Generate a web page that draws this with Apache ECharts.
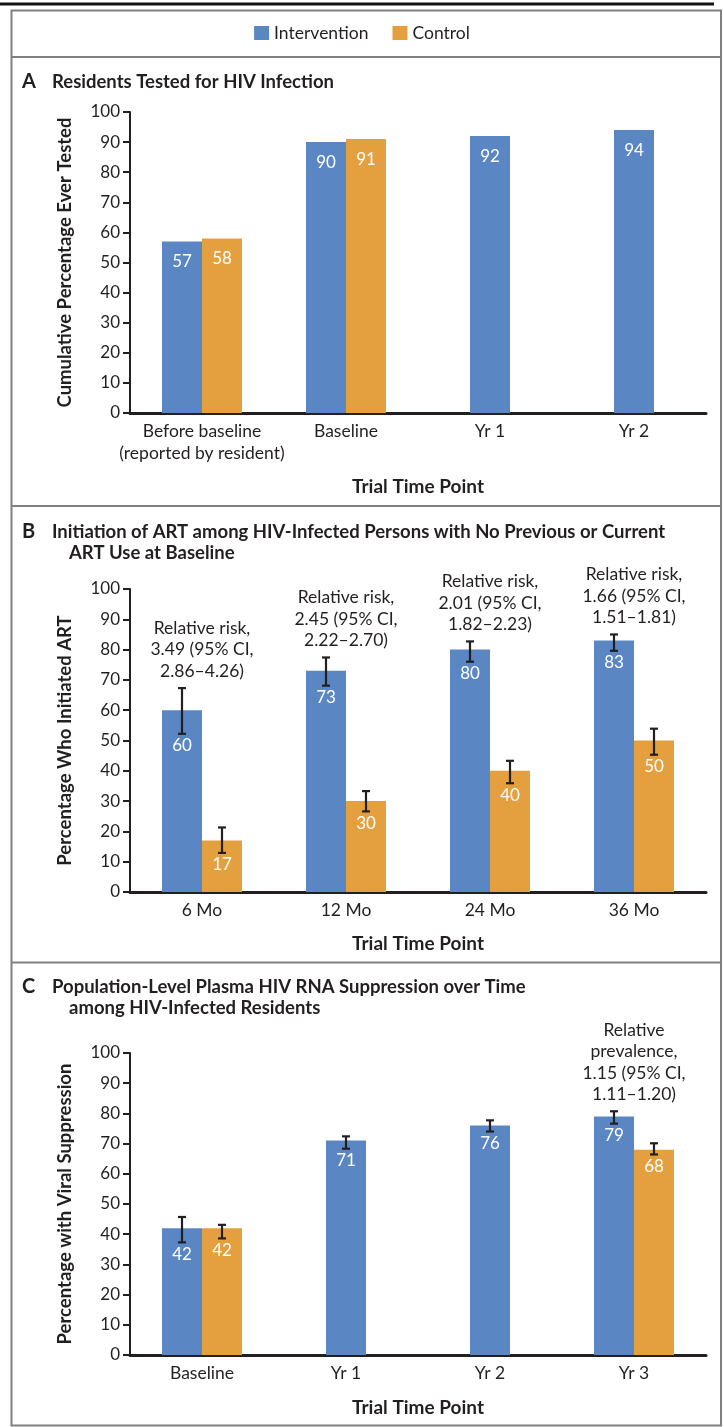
<!DOCTYPE html>
<html>
<head>
<meta charset="utf-8">
<script src="https://cdn.jsdelivr.net/npm/echarts@6/dist/echarts.min.js"></script>
<style>
html,body{margin:0;padding:0;background:#fff;}
#chart{width:724px;height:1427px;}
</style>
</head>
<body>
<div id="chart"></div>
<script>
// ---------- data ----------
const seriesNames = ['Intervention', 'Control'];
const yTicks = [0, 10, 20, 30, 40, 50, 60, 70, 80, 90, 100];
const xAxisTitle = 'Trial Time Point';

// Panel A
const aTitle = 'Residents Tested for HIV Infection';
const aYTitle = 'Cumulative Percentage Ever Tested';
const aCategories = ['Before baseline\n(reported by resident)', 'Baseline', 'Yr 1', 'Yr 2'];
const aIntervention = [57, 90, 92, 94];
const aControl = [58, 91, null, null];

// Panel B
const bTitle1 = 'Initiation of ART among HIV-Infected Persons with No Previous or Current';
const bTitle2 = 'ART Use at Baseline';
const bYTitle = 'Percentage Who Initiated ART';
const bCategories = ['6 Mo', '12 Mo', '24 Mo', '36 Mo'];
const bIntervention = [60, 73, 80, 83];
const bInterventionLow = [52.2, 68.1, 76.0, 79.6];
const bInterventionHigh = [67.3, 77.4, 82.7, 85.0];
const bControl = [17, 30, 40, 50];
const bControlLow = [12.9, 26.6, 35.9, 45.3];
const bControlHigh = [21.3, 33.3, 43.3, 53.9];
const bNotes = [
  'Relative risk,\n3.49 (95% CI,\n2.86\u20134.26)',
  'Relative risk,\n2.45 (95% CI,\n2.22\u20132.70)',
  'Relative risk,\n2.01 (95% CI,\n1.82\u20132.23)',
  'Relative risk,\n1.66 (95% CI,\n1.51\u20131.81)'
];

// Panel C
const cTitle1 = 'Population-Level Plasma HIV RNA Suppression over Time';
const cTitle2 = 'among HIV-Infected Residents';
const cYTitle = 'Percentage with Viral Suppression';
const cCategories = ['Baseline', 'Yr 1', 'Yr 2', 'Yr 3'];
const cIntervention = [42, 71, 76, 79];
const cInterventionLow = [37.3, 68.3, 74.0, 76.6];
const cInterventionHigh = [45.7, 72.4, 77.7, 80.7];
const cControl = [42, null, null, 68];
const cControlLow = [38.6, null, null, 66.4];
const cControlHigh = [43.1, null, null, 70.1];
const cNotes = ['', '', '', 'Relative\nprevalence,\n1.15 (95% CI,\n1.11\u20131.20)'];

// ---------- styling ----------
const BLUE = '#5B86C4';
const ORANGE = '#E4A03E';
const INK = '#231F20';
const FONT = 'Lato';
const BAR_W = 40;
const GRID_LEFT = 130, GRID_W = 576;
const FS_TEXT = 17.5, FS_TICK = 17, FS_VAL = 17, FS_AXNAME = 18.5, FS_XNAME = 19, FS_TITLE = 18.5;

const grids = [
  {left: GRID_LEFT, width: GRID_W, top: 112, height: 301},
  {left: GRID_LEFT, width: GRID_W, top: 589, height: 303},
  {left: GRID_LEFT, width: GRID_W, top: 1053, height: 302}
];
const panels = [
  {cats: aCategories, yTitle: aYTitle, xNameGap: 64, inter: aIntervention, ctrl: aControl},
  {cats: bCategories, yTitle: bYTitle, xNameGap: 42, inter: bIntervention, ctrl: bControl,
   iLow: bInterventionLow, iHigh: bInterventionHigh, cLow: bControlLow, cHigh: bControlHigh, notes: bNotes},
  {cats: cCategories, yTitle: cYTitle, xNameGap: 43, inter: cIntervention, ctrl: cControl,
   iLow: cInterventionLow, iHigh: cInterventionHigh, cLow: cControlLow, cHigh: cControlHigh, notes: cNotes}
];

const xAxes = [], yAxes = [], series = [];
panels.forEach((p, g) => {
  xAxes.push({
    type: 'category', gridIndex: g, data: p.cats,
    axisLine: {show: true, onZero: false, lineStyle: {color: INK, width: 3}},
    axisTick: {show: false},
    axisLabel: {color: INK, fontFamily: FONT, fontSize: FS_TEXT, lineHeight: 21.5, margin: 8, interval: 0},
    name: xAxisTitle, nameLocation: 'middle', nameGap: p.xNameGap,
    nameTextStyle: {color: INK, fontFamily: FONT, fontSize: FS_XNAME, fontWeight: 'bold'}
  });
  xAxes.push({
    type: 'category', gridIndex: g, data: p.cats, show: false
  });
  yAxes.push({
    type: 'value', gridIndex: g, min: yTicks[0], max: yTicks[yTicks.length - 1],
    interval: yTicks[1] - yTicks[0],
    splitLine: {show: false},
    axisLine: {show: true, lineStyle: {color: INK, width: 2}},
    axisTick: {show: true, length: 7, lineStyle: {color: INK, width: 2}},
    axisLabel: {color: INK, fontFamily: FONT, fontSize: FS_TICK, margin: 10},
    name: p.yTitle, nameLocation: 'middle', nameGap: 55, nameRotate: 90,
    nameTextStyle: {color: INK, fontFamily: FONT, fontSize: FS_AXNAME, fontWeight: 'bold'}
  });

  const hasErr = !!p.iLow;
  const paired = p.ctrl.map(v => v != null);
  const barLabel = {
    show: !hasErr, position: 'insideTop', distance: 12, color: '#fff',
    fontFamily: FONT, fontSize: FS_VAL
  };
  // paired intervention bars
  series.push({
    type: 'bar', name: seriesNames[0], xAxisIndex: 2 * g, yAxisIndex: g,
    barWidth: BAR_W, barGap: '0%', itemStyle: {color: BLUE},
    label: barLabel,
    data: p.inter.map((v, i) => paired[i] ? v : '-')
  });
  series.push({
    type: 'bar', name: seriesNames[1], xAxisIndex: 2 * g, yAxisIndex: g,
    barWidth: BAR_W, barGap: '0%', itemStyle: {color: ORANGE},
    label: barLabel,
    data: p.ctrl.map(v => v == null ? '-' : v)
  });
  // intervention bars without a control counterpart (centred)
  series.push({
    type: 'bar', name: seriesNames[0], xAxisIndex: 2 * g + 1, yAxisIndex: g,
    barWidth: BAR_W, itemStyle: {color: BLUE},
    label: barLabel,
    data: p.inter.map((v, i) => paired[i] ? '-' : v)
  });

  if (hasErr) {
    const makeErr = (vals, lows, highs, side) => ({
      type: 'custom', xAxisIndex: 2 * g, yAxisIndex: g, silent: true, z: 5,
      data: vals.map((v, i) => v == null ? null : [i, lows[i], highs[i], v]).filter(d => d),
      renderItem: function (params, api) {
        const idx = api.value(0);
        const shift = paired[idx] ? side * BAR_W / 2 : 0;
        const x = api.coord([idx, 0])[0] + shift;
        const lo = api.coord([idx, api.value(1)])[1];
        const hi = api.coord([idx, api.value(2)])[1];
        const ls = {stroke: INK, lineWidth: 2.2};
        return {type: 'group', children: [
          {type: 'line', shape: {x1: x, y1: lo, x2: x, y2: hi}, style: ls},
          {type: 'line', shape: {x1: x - 4, y1: hi, x2: x + 4, y2: hi}, style: ls},
          {type: 'line', shape: {x1: x - 4, y1: lo, x2: x + 4, y2: lo}, style: ls},
          {type: 'text', style: {text: String(api.value(3)), x: x, y: lo + 12,
            align: 'center', verticalAlign: 'middle', fill: '#fff',
            font: FS_VAL + 'px ' + FONT}}
        ]};
      }
    });
    series.push(makeErr(p.inter, p.iLow, p.iHigh, -1));
    series.push(makeErr(p.ctrl, p.cLow, p.cHigh, 1));
    // annotations above each group
    series.push({
      type: 'custom', xAxisIndex: 2 * g + 1, yAxisIndex: g, silent: true, z: 6,
      data: p.notes.map((t, i) => t ? [i, Math.max(p.iHigh[i] || 0, p.cHigh[i] || 0)] : null).filter(d => d),
      renderItem: function (params, api) {
        const idx = api.value(0);
        const pt = api.coord([idx, api.value(1)]);
        return {type: 'text', style: {text: p.notes[idx], x: pt[0], y: pt[1] - 6,
          align: 'center', verticalAlign: 'bottom', fill: INK,
          font: FS_TEXT + 'px ' + FONT, lineHeight: 21.5}};
      }
    });
  }
});

const letterFont = 'bold 20px ' + FONT;
const titleFont = 'bold ' + FS_TITLE + 'px ' + FONT;
const txt = (text, x, y, font) => ({type: 'text', x: x, y: y,
  style: {text: text, font: font, fill: INK, verticalAlign: 'middle', align: 'left'}});
const hline = (y) => ({type: 'line', shape: {x1: 11.5, y1: y, x2: 721, y2: y},
  style: {stroke: '#808080', lineWidth: 2}});

const option = {
  animation: false,
  backgroundColor: '#fff',
  textStyle: {fontFamily: FONT},
  legend: {
    data: seriesNames, top: 24, left: 'center', icon: 'rect', padding: 0,
    itemWidth: 15, itemHeight: 14, itemGap: 24,
    textStyle: {color: INK, fontFamily: FONT, fontSize: FS_TEXT}
  },
  grid: grids,
  xAxis: xAxes,
  yAxis: yAxes,
  series: series,
  graphic: [
    {type: 'rect', shape: {x: 0, y: 2.5, width: 714, height: 3}, style: {fill: '#111'}},
    {type: 'rect', shape: {x: 11.5, y: 10.5, width: 709.5, height: 1415}, style: {fill: 'none', stroke: '#808080', lineWidth: 2}},
    hline(57), hline(506), hline(962.5),
    txt('A', 22, 82, letterFont), txt(aTitle, 52, 82, titleFont),
    txt('B', 22, 532, letterFont), txt(bTitle1, 52, 532, titleFont), txt(bTitle2, 69, 553, titleFont),
    txt('C', 22, 987, letterFont), txt(cTitle1, 52, 987, titleFont), txt(cTitle2, 69, 1008, titleFont)
  ]
};

const chart = echarts.init(document.getElementById('chart'), null, {renderer: 'canvas'});
chart.setOption(option);
</script>
</body>
</html>
